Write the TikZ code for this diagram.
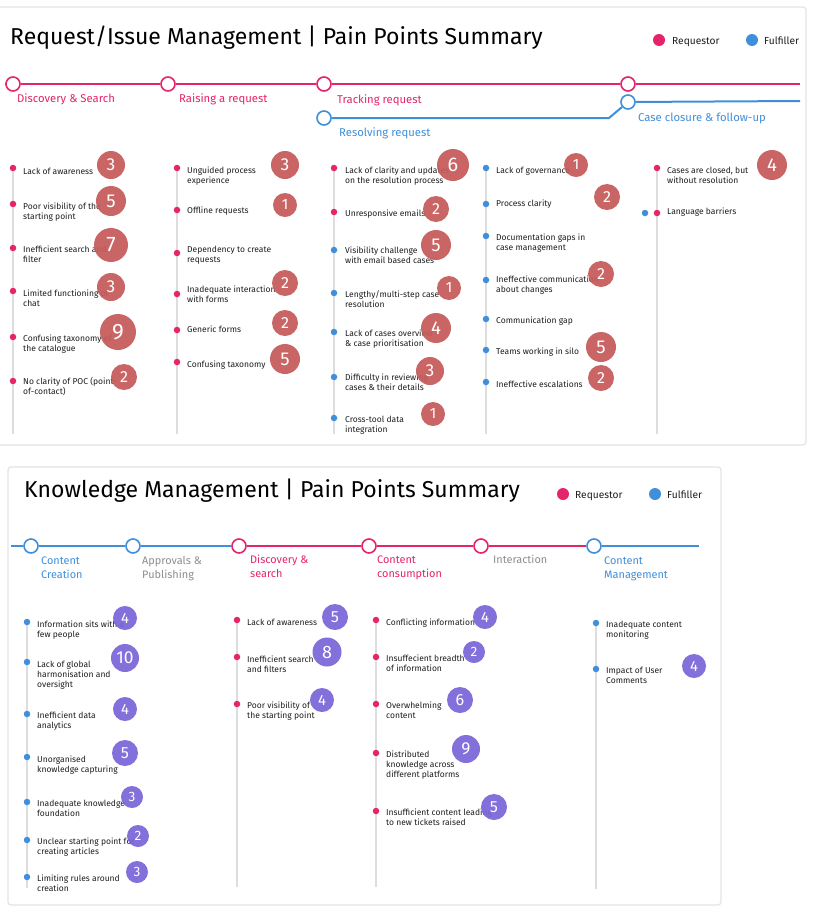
\documentclass[tikz,border=0pt]{standalone}
\usepackage{fontspec}
\setmainfont{Fira Sans}
\usetikzlibrary{calc}
\definecolor{pk}{HTML}{E5246B}
\definecolor{bl}{HTML}{3F8FDB}
\definecolor{vl}{HTML}{DDDDDD}
\definecolor{rbc}{HTML}{C65A5A}
\definecolor{puc}{HTML}{7A66D8}
\definecolor{gl}{HTML}{8E8E8E}
\definecolor{frm}{HTML}{E4E4E4}
\definecolor{tx}{HTML}{1E1E1E}
\newcommand\ml[1]{\begin{tabular}[t]{@{}l@{}}#1\end{tabular}}
\begin{document}
\begin{tikzpicture}[x=1pt,y=-1pt,
 panel/.style={draw=frm,line width=1.2pt,rounded corners=3pt},
 tline/.style={line width=2pt},
 vline/.style={draw=vl,line width=1.6pt},
 stopc/.style={circle,draw=#1,fill=white,line width=1.6pt,minimum size=14pt,inner sep=0pt},
 pdot/.style={circle,fill=#1,minimum size=6.5pt,inner sep=0pt},
 ldot/.style={circle,fill=#1,minimum size=12pt,inner sep=0pt},
 itext/.style={anchor=base west,inner sep=0pt,text=tx,font=\fontsize{8.5}{10.4}\selectfont},
 slabel/.style={anchor=base west,inner sep=0pt,text=#1,font=\fontsize{11.3}{14}\selectfont},
 klabel/.style={anchor=base west,inner sep=0pt,text=#1,font=\fontsize{10.9}{14}\selectfont},
 ttl/.style={anchor=base west,inner sep=0pt,text=black,font=\fontsize{23}{26}\selectfont},
 lgd/.style={anchor=base west,inner sep=0pt,text=tx,font=\fontsize{10.2}{11}\selectfont},
 badge/.style 2 args={circle,fill=#1,fill opacity=0.93,text opacity=1,text=white,inner sep=0pt,minimum size=#2pt,
   /utils/exec={\pgfmathsetmacro\bfs{0.62*#2}}, font=\fontsize{\bfs}{\bfs}\selectfont},
 rb/.style={badge={rbc}{#1}},
 pb/.style={badge={puc}{#1}},
]
\useasboundingbox (0,0) rectangle (816,924);
\fill[white] (0,0) rectangle (816,924);

% ================= TOP PANEL =================
\draw[panel] (-3,7) rectangle (806,445);
\node[ttl] (t1) at (10,44) {Request/Issue Management | Pain Points Summary};
\node[ldot=pk] (l1p) at (659,40) {};
\node[lgd] (l1pt) at (672,44) {Requestor};
\node[ldot=bl] (l1b) at (752,40) {};
\node[lgd] (l1bt) at (764,44) {Fulfiller};

% timeline
\node[stopc=pk] (tc1) at (13,84) {};
\node[stopc=pk] (tc2) at (168,84) {};
\node[stopc=pk] (tc3) at (324,84) {};
\node[stopc=pk] (tc4) at (628,84) {};
\coordinate (tps) at (5,84);
\coordinate (tpe) at (800,84);
\draw[tline,pk] (tps) -- (tc1) (tc1) -- (tc2) (tc2) -- (tc3) (tc3) -- (tc4) (tc4) -- (tpe);
\node[stopc=bl] (tb1) at (324,118) {};
\node[stopc=bl] (tb2) at (628,102) {};
\coordinate (tbk) at (609,118);
\coordinate (tbe) at (800,101);
\draw[tline,bl] (tb1) -- (tbk) -- (tb2) (tb2) -- (tbe);
\node[slabel=pk] (s1) at (17,102) {Discovery \& Search};
\node[slabel=pk] (s2) at (179,102) {Raising a request};
\node[slabel=pk] (s3) at (337,103) {Tracking request};
\node[slabel=bl] (s4) at (339,136) {Resolving request};
\node[slabel=bl] (s5) at (638,121) {Case closure \& follow-up};

% vertical lines
\foreach \n/\x/\y in {1/13/165,2/177/165,3/334/165,4/486/165,5/657/168}{
  \coordinate (va\n) at (\x,\y);
  \coordinate (vb\n) at (\x,434);
  \draw[vline] (va\n) -- (vb\n);
}

% column 1
\node[pdot=pk] (a1) at (13,168) {};
\node[itext] (a1t) at (23,174) {Lack of awareness};
\node[pdot=pk] (a2) at (13,204) {};
\node[itext] (a2t) at (23,209) {\ml{Poor visibility of the\\starting point}};
\node[pdot=pk] (a3) at (13,248) {};
\node[itext] (a3t) at (23,252) {\ml{Inefficient search and\\filter}};
\node[pdot=pk] (a4) at (13,291) {};
\node[itext] (a4t) at (23,296) {\ml{Limited functioning of\\chat}};
\node[pdot=pk] (a5) at (13,337) {};
\node[itext] (a5t) at (23,341) {\ml{Confusing taxonomy of\\the catalogue}};
\node[pdot=pk] (a6) at (13,381) {};
\node[itext] (a6t) at (23,384) {\ml{No clarity of POC (point-\\of-contact)}};
\node[rb=28] (a1b) at (111,165) {3};
\node[rb=30] (a2b) at (111,201) {5};
\node[rb=34] (a3b) at (111,245) {7};
\node[rb=28] (a4b) at (111,287) {3};
\node[rb=36] (a5b) at (118,332) {9};
\node[rb=26] (a6b) at (124,377) {2};

% column 2
\node[pdot=pk] (b1) at (177,168) {};
\node[itext] (b1t) at (187,173) {\ml{Unguided process\\experience}};
\node[pdot=pk] (b2) at (177,210) {};
\node[itext] (b2t) at (187,213) {Offline requests};
\node[pdot=pk] (b3) at (177,253) {};
\node[itext] (b3t) at (187,252) {\ml{Dependency to create\\requests}};
\node[pdot=pk] (b4) at (177,294) {};
\node[itext] (b4t) at (187,292) {\ml{Inadequate interaction\\with forms}};
\node[pdot=pk] (b5) at (177,330) {};
\node[itext] (b5t) at (187,332) {Generic forms};
\node[pdot=pk] (b6) at (177,362) {};
\node[itext] (b6t) at (187,367) {Confusing taxonomy};
\node[rb=28] (b1b) at (285,165) {3};
\node[rb=24] (b2b) at (285,205) {1};
\node[rb=26] (b4b) at (285,283) {2};
\node[rb=26] (b5b) at (285,323) {2};
\node[rb=30] (b6b) at (285,359) {5};

% column 3
\node[pdot=pk] (c1) at (334,168) {};
\node[itext] (c1t) at (345,173) {\ml{Lack of clarity and updates\\on the resolution process}};
\node[pdot=pk] (c2) at (334,212) {};
\node[itext] (c2t) at (345,216) {Unresponsive emails};
\node[pdot=bl] (c3) at (334,250) {};
\node[itext] (c3t) at (345,253) {\ml{Visibility challenge\\with email based cases}};
\node[pdot=bl] (c4) at (334,293) {};
\node[itext] (c4t) at (345,297) {\ml{Lengthy/multi-step case\\resolution}};
\node[pdot=bl] (c5) at (334,332) {};
\node[itext] (c5t) at (345,336) {\ml{Lack of cases overview\\\& case prioritisation}};
\node[pdot=bl] (c6) at (334,377) {};
\node[itext] (c6t) at (345,380) {\ml{Difficulty in reviewing\\cases \& their details}};
\node[pdot=bl] (c7) at (334,418) {};
\node[itext] (c7t) at (345,422) {\ml{Cross-tool data\\integration}};
\node[rb=32] (c1b) at (453,165) {6};
\node[rb=26] (c2b) at (436,209) {2};
\node[rb=30] (c3b) at (436,245) {5};
\node[rb=24] (c4b) at (449,288) {1};
\node[rb=30] (c5b) at (436,328) {4};
\node[rb=28] (c6b) at (430,371) {3};
\node[rb=24] (c7b) at (433,414) {1};

% column 4
\node[pdot=bl] (d1) at (486,168) {};
\node[itext] (d1t) at (496,173) {Lack of governance};
\node[pdot=bl] (d2) at (486,204) {};
\node[itext] (d2t) at (496,206) {Process clarity};
\node[pdot=bl] (d3) at (486,236) {};
\node[itext] (d3t) at (496,240) {\ml{Documentation gaps in\\case management}};
\node[pdot=bl] (d4) at (486,280) {};
\node[itext] (d4t) at (496,282) {\ml{Ineffective communication\\about changes}};
\node[pdot=bl] (d5) at (486,319) {};
\node[itext] (d5t) at (496,323) {Communication gap};
\node[pdot=bl] (d6) at (486,350) {};
\node[itext] (d6t) at (496,354) {Teams working in silo};
\node[pdot=bl] (d7) at (486,382) {};
\node[itext] (d7t) at (496,387) {Ineffective escalations};
\node[rb=24] (d1b) at (576,165) {1};
\node[rb=26] (d2b) at (607,197) {2};
\node[rb=26] (d4b) at (601,274) {2};
\node[rb=30] (d6b) at (601,347) {5};
\node[rb=26] (d7b) at (601,378) {2};

% column 5
\node[pdot=pk] (e1) at (657,168) {};
\node[itext] (e1t) at (667,173) {\ml{Cases are closed, but\\without resolution}};
\node[pdot=pk] (e2) at (657,213) {};
\node[pdot=bl] (e2x) at (645,213) {};
\node[itext] (e2t) at (667,214) {Language barriers};
\node[rb=30] (e1b) at (772,165) {4};

% ================= BOTTOM PANEL =================
\draw[panel] (8,467) rectangle (721,905);
\node[ttl] (t2) at (24,497) {Knowledge Management | Pain Points Summary};
\node[ldot=pk] (l2p) at (563,494) {};
\node[lgd] (l2pt) at (575,498) {Requestor};
\node[ldot=bl] (l2b) at (655,494) {};
\node[lgd] (l2bt) at (667,498) {Fulfiller};

\node[stopc=bl] (k1) at (31,546) {};
\node[stopc=bl] (k2) at (133,546) {};
\node[stopc=pk] (k3) at (239,546) {};
\node[stopc=pk] (k4) at (369,546) {};
\node[stopc=pk] (k5) at (481,546) {};
\node[stopc=bl] (k6) at (594,546) {};
\coordinate (ks) at (11,546);
\coordinate (ke) at (699,546);
\draw[tline,bl] (ks) -- (k1) (k1) -- (k2) (k2) -- (k3) (k6) -- (ke);
\draw[tline,pk] (k3) -- (k4) (k4) -- (k5) (k5) -- (k6);
\node[klabel=bl] (m1) at (41,564) {\ml{Content\\Creation}};
\node[klabel=gl] (m2) at (142,564) {\ml{Approvals \&\\Publishing}};
\node[klabel=pk] (m3) at (250,563) {\ml{Discovery \&\\search}};
\node[klabel=pk] (m4) at (377,563) {\ml{Content\\consumption}};
\node[klabel=gl] (m5) at (493,563) {Interaction};
\node[klabel=bl] (m6) at (604,564) {\ml{Content\\Management}};

\foreach \n/\x/\y/\z in {1/27/622/888,2/237/620/887,3/376/620/887,4/596/623/889}{
  \coordinate (wa\n) at (\x,\y);
  \coordinate (wb\n) at (\x,\z);
  \draw[vline] (wa\n) -- (wb\n);
}

% bottom column 1
\node[pdot=bl] (f1) at (27,622) {};
\node[itext] (f1t) at (37,627) {\ml{Information sits with a\\few people}};
\node[pdot=bl] (f2) at (27,662) {};
\node[itext] (f2t) at (37,667) {\ml{Lack of global\\harmonisation and\\oversight}};
\node[pdot=bl] (f3) at (27,714) {};
\node[itext] (f3t) at (37,718) {\ml{Inefficient data\\analytics}};
\node[pdot=bl] (f4) at (27,757) {};
\node[itext] (f4t) at (37,762) {\ml{Unorganised\\knowledge capturing}};
\node[pdot=bl] (f5) at (27,802) {};
\node[itext] (f5t) at (37,806) {\ml{Inadequate knowledge\\foundation}};
\node[pdot=bl] (f6) at (27,840) {};
\node[itext] (f6t) at (37,844) {\ml{Unclear starting point for\\creating articles}};
\node[pdot=bl] (f7) at (27,877) {};
\node[itext] (f7t) at (37,881) {\ml{Limiting rules around\\creation}};
\node[pb=24] (f1b) at (125,618) {4};
\node[pb=28] (f2b) at (125,658) {10};
\node[pb=24] (f3b) at (125,709) {4};
\node[pb=26] (f4b) at (125,753) {5};
\node[pb=22] (f5b) at (132,797) {3};
\node[pb=22] (f6b) at (138,836) {2};
\node[pb=22] (f7b) at (137,872) {3};

% bottom column 2
\node[pdot=pk] (g1) at (237,620) {};
\node[itext] (g1t) at (247,625) {Lack of awareness};
\node[pdot=pk] (g2) at (237,657) {};
\node[itext] (g2t) at (247,662) {\ml{Inefficient search\\and filters}};
\node[pdot=pk] (g3) at (237,704) {};
\node[itext] (g3t) at (247,708) {\ml{Poor visibility of\\the starting point}};
\node[pb=26] (g1b) at (335,617) {5};
\node[pb=29] (g2b) at (327,652) {8};
\node[pb=24] (g3b) at (322,700) {4};

% bottom column 3
\node[pdot=pk] (h1) at (376,620) {};
\node[itext] (h1t) at (386,625) {Conflicting information};
\node[pdot=pk] (h2) at (376,657) {};
\node[itext] (h2t) at (386,661) {\ml{Insuffecient breadth\\of information}};
\node[pdot=pk] (h3) at (376,704) {};
\node[itext] (h3t) at (386,708) {\ml{Overwhelming\\content}};
\node[pdot=pk] (h4) at (376,753) {};
\node[itext] (h4t) at (386,757) {\ml{Distributed\\knowledge across\\different platforms}};
\node[pdot=pk] (h5) at (376,811) {};
\node[itext] (h5t) at (386,815) {\ml{Insufficient content leading\\to new tickets raised}};
\node[pb=24] (h1b) at (485,617) {4};
\node[pb=22] (h2b) at (474,652) {2};
\node[pb=26] (h3b) at (460,700) {6};
\node[pb=28] (h4b) at (466,749) {9};
\node[pb=26] (h5b) at (494,807) {5};

% bottom column 4
\node[pdot=bl] (i1) at (596,623) {};
\node[itext] (i1t) at (606,627) {\ml{Inadequate content\\monitoring}};
\node[pdot=bl] (i2) at (596,669) {};
\node[itext] (i2t) at (606,673) {\ml{Impact of User\\Comments}};
\node[pb=24] (i2b) at (694,666) {4};
\end{tikzpicture}
\end{document}
